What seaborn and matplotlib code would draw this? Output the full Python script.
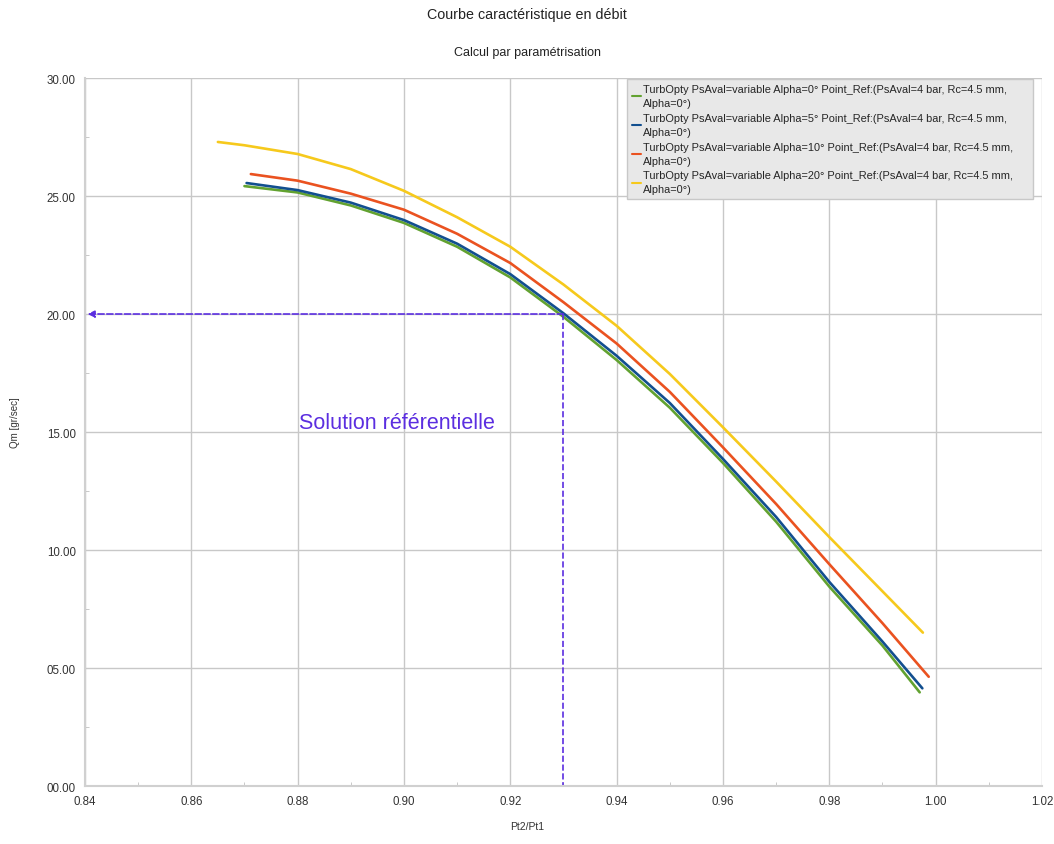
import pandas as pd
import seaborn as sns
import matplotlib.pyplot as plt
from matplotlib.ticker import MultipleLocator, FormatStrFormatter

# Data
x_a0 = [0.870, 0.880, 0.890, 0.900, 0.910, 0.920, 0.930, 0.940, 0.950, 0.960, 0.970, 0.980, 0.990, 0.997]
qm_a0 = [25.42, 25.15, 24.60, 23.86, 22.85, 21.55, 19.88, 18.05, 16.03, 13.69, 11.20, 8.45, 5.95, 3.97]

x_a5 = [0.8704, 0.880, 0.890, 0.900, 0.910, 0.920, 0.930, 0.940, 0.950, 0.960, 0.970, 0.980, 0.990, 0.9975]
qm_a5 = [25.55, 25.25, 24.72, 23.98, 22.98, 21.69, 20.03, 18.23, 16.23, 13.86, 11.40, 8.65, 6.12, 4.14]

x_a10 = [0.8712, 0.880, 0.890, 0.900, 0.910, 0.920, 0.930, 0.940, 0.950, 0.960, 0.970, 0.980, 0.990, 0.9987]
qm_a10 = [25.93, 25.65, 25.10, 24.42, 23.40, 22.16, 20.50, 18.75, 16.70, 14.35, 11.95, 9.40, 6.90, 4.63]

x_a20 = [0.865, 0.870, 0.880, 0.890, 0.900, 0.910, 0.920, 0.930, 0.940, 0.950, 0.960, 0.970, 0.980, 0.990, 0.9976]
qm_a20 = [27.29, 27.15, 26.78, 26.14, 25.22, 24.10, 22.85, 21.25, 19.50, 17.46, 15.20, 12.90, 10.55, 8.25, 6.50]

ref_x = 0.93
ref_qm = 20.0

labels = [
    "TurbOpty PsAval=variable Alpha=0° Point_Ref:(PsAval=4 bar, Rc=4.5 mm,\nAlpha=0°)",
    "TurbOpty PsAval=variable Alpha=5° Point_Ref:(PsAval=4 bar, Rc=4.5 mm,\nAlpha=0°)",
    "TurbOpty PsAval=variable Alpha=10° Point_Ref:(PsAval=4 bar, Rc=4.5 mm,\nAlpha=0°)",
    "TurbOpty PsAval=variable Alpha=20° Point_Ref:(PsAval=4 bar, Rc=4.5 mm,\nAlpha=0°)",
]
colors = ["#62a230", "#124f8f", "#ea5220", "#f6c91c"]

frames = []
for lab, xs, ys in zip(labels, [x_a0, x_a5, x_a10, x_a20], [qm_a0, qm_a5, qm_a10, qm_a20]):
    frames.append(pd.DataFrame({"Pt2/Pt1": xs, "Qm": ys, "serie": lab}))
df = pd.concat(frames, ignore_index=True)

sns.set_style("white")
plt.rcParams['font.family'] = ['Liberation Sans', 'DejaVu Sans']

fig = plt.figure(figsize=(10.54, 8.45), dpi=100)
ax = fig.add_axes([0.0806, 0.0686, 0.908, 0.8379])

sns.lineplot(data=df, x="Pt2/Pt1", y="Qm", hue="serie", palette=dict(zip(labels, colors)),
             sort=False, estimator=None, lw=1.9, ax=ax)

ax.set_xlim(0.84, 1.02)
ax.set_ylim(0, 30)
ax.xaxis.set_major_locator(MultipleLocator(0.02))
ax.xaxis.set_minor_locator(MultipleLocator(0.01))
ax.yaxis.set_major_locator(MultipleLocator(5))
ax.yaxis.set_minor_locator(MultipleLocator(2.5))
ax.xaxis.set_major_formatter(FormatStrFormatter("%.2f"))
ax.yaxis.set_major_formatter(FormatStrFormatter("%05.2f"))
ax.grid(True, which="major", color="#c8c8c8", lw=1)
ax.tick_params(which="major", direction="out", length=5, pad=1.5, color="#c0c0c0",
               labelsize=8.3, labelcolor="#333333")
ax.tick_params(which="minor", direction="in", length=3, color="#c0c0c0")
ax.tick_params(axis="x", which="minor", bottom=True)
ax.tick_params(axis="y", which="minor", left=True)
for side in ["left", "bottom"]:
    ax.spines[side].set_color("#d0d0d0")
    ax.spines[side].set_linewidth(1.5)
for side in ["top", "right"]:
    ax.spines[side].set_visible(False)

ax.set_xlabel("")
ax.set_ylabel("")
fig.text(0.5, 0.021, "Pt2/Pt1", ha="center", va="center", fontsize=7.5, color="#333333")
fig.text(0.014, 0.5, "Qm [gr/sec]", ha="center", va="center", rotation=90, fontsize=7, color="#333333")
fig.text(0.5, 0.982, "Courbe caractéristique en débit", ha="center", va="center", fontsize=10.3, color="#222222")
fig.text(0.5, 0.937, "Calcul par paramétrisation", ha="center", va="center", fontsize=9, color="#222222")

# reference point markers
violet = "#5b2ee0"
ax.annotate("", xy=(0.8405, ref_qm), xytext=(ref_x, ref_qm),
            arrowprops=dict(arrowstyle="-|>", ls="--", color=violet, lw=1.2, mutation_scale=10,
                            shrinkA=0, shrinkB=0))
ax.plot([ref_x, ref_x], [ref_qm, 0], ls="--", color=violet, lw=1.2)
ax.text(0.8803, 15.4, "Solution référentielle", fontsize=15.5, color=violet, va="center", ha="left")

leg = ax.legend(loc="upper right", bbox_to_anchor=(0.9906, 0.999), fontsize=7.9, frameon=True,
                fancybox=False, handlelength=0.8, handletextpad=0.2, borderpad=0.45,
                labelspacing=0.45, borderaxespad=0.0)
leg.get_frame().set_facecolor("#e8e8e8")
leg.get_frame().set_edgecolor("#c8c8c8")
leg.get_frame().set_alpha(1)
for t in leg.get_texts():
    t.set_linespacing(1.5)
for line in leg.get_lines():
    line.set_linewidth(1.5)
# widen the box a little on the right like the original legend
leg.get_texts()[2].set_text(labels[2].replace("mm,", "mm,     "))

fig.savefig("out.png", dpi=100)
